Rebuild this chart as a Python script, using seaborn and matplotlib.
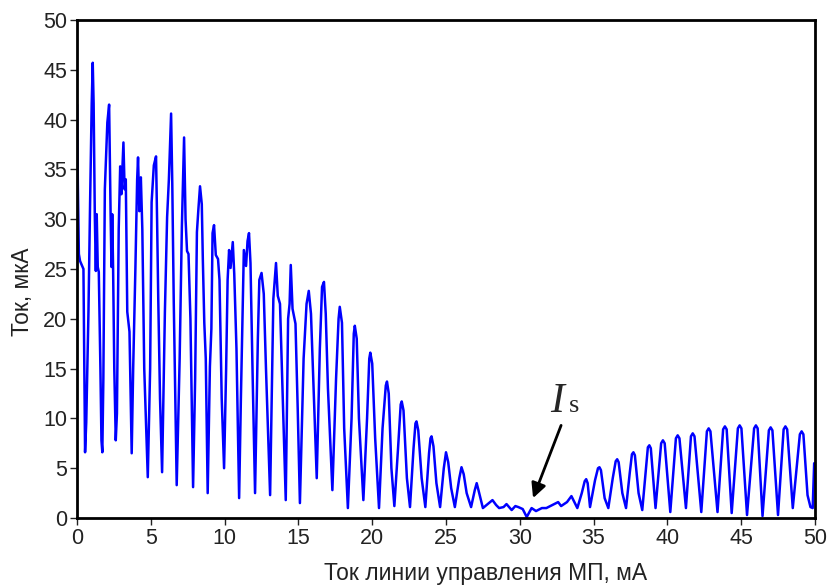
import matplotlib
matplotlib.use("Agg")
import matplotlib.pyplot as plt
import pandas as pd
import seaborn as sns

# vertices (control-line current, mA  ->  current, uA)
seg1 = [(0.0, 41.5), (0.05, 33.6), (0.12, 26.5), (0.2, 25.8), (0.43, 25.0), (0.54, 6.6),
        (0.62, 9.6), (0.77, 20.7), (0.88, 31.6), (0.99, 41.6), (1.06, 45.7), (1.12, 41.6),
        (1.2, 30.4), (1.27, 24.8), (1.33, 30.5), (1.4, 25.2), (1.47, 24.7), (1.58, 15.0),
        (1.65, 7.8), (1.71, 6.6), (1.78, 14.0), (1.88, 33.0), (2.05, 39.7), (2.17, 41.5),
        (2.27, 30.6), (2.33, 25.2), (2.38, 30.5), (2.44, 25.0), (2.52, 15.0), (2.62, 7.8),
        (2.7, 10.5), (2.82, 29.0), (2.92, 35.3), (3.0, 32.5), (3.14, 37.7), (3.22, 33.0),
        (3.3, 34.0), (3.4, 20.7), (3.55, 18.7), (3.7, 6.5), (3.8, 15.0), (3.95, 25.0),
        (4.07, 34.0), (4.13, 36.2), (4.22, 30.8), (4.32, 34.2), (4.42, 29.0), (4.55, 15.0),
        (4.79, 4.1), (4.95, 15.0), (5.05, 31.7), (5.2, 35.4), (5.35, 36.3), (5.42, 30.0),
        (5.5, 22.0), (5.62, 12.0), (5.76, 4.6), (5.95, 20.7), (6.1, 30.2), (6.22, 34.0),
        (6.37, 40.6), (6.45, 33.6), (6.55, 21.7), (6.75, 3.3), (6.95, 16.0), (7.1, 29.2),
        (7.25, 38.2), (7.35, 30.0), (7.45, 26.8), (7.55, 26.5), (7.68, 20.0), (7.86, 3.1),
        (8.0, 14.0), (8.12, 28.7), (8.22, 31.0), (8.33, 33.3), (8.45, 31.5), (8.52, 26.0),
        (8.62, 19.6), (8.72, 16.0), (8.85, 2.5), (9.0, 15.2), (9.1, 19.0), (9.18, 28.6),
        (9.28, 29.4), (9.4, 26.4), (9.55, 26.0), (9.65, 23.9), (9.8, 12.0), (9.96, 5.0)]

seg2 = [(10.1, 15.0), (10.2, 23.9), (10.3, 26.9), (10.4, 25.1), (10.55, 27.7), (10.65, 24.5),
        (10.8, 17.0), (10.98, 2.0), (11.1, 12.0), (11.3, 26.9), (11.45, 25.3), (11.55, 27.8),
        (11.65, 28.6), (11.75, 25.6), (11.9, 14.0), (12.06, 2.5), (12.25, 18.0), (12.35, 23.9),
        (12.5, 24.6), (12.65, 22.5), (12.8, 15.0), (13.08, 2.3), (13.3, 22.0), (13.48, 25.6),
        (13.6, 22.3), (13.75, 21.5), (13.9, 14.0), (14.14, 1.8), (14.3, 20.0), (14.4, 21.5),
        (14.48, 25.4), (14.6, 21.0), (14.8, 19.5), (14.95, 11.0), (15.1, 1.5), (15.35, 16.0),
        (15.55, 21.5), (15.7, 22.8), (15.85, 20.5), (16.05, 12.0), (16.24, 4.0), (16.45, 17.0),
        (16.6, 23.2), (16.73, 23.7), (16.85, 20.5), (17.0, 13.0), (17.3, 2.8), (17.55, 14.0),
        (17.72, 20.0), (17.8, 21.2), (17.95, 19.6), (18.1, 9.0), (18.35, 1.0), (18.6, 10.0),
        (18.75, 18.5), (18.82, 19.3), (18.95, 18.0), (19.1, 10.0), (19.4, 1.8), (19.65, 10.0),
        (19.8, 16.0), (19.87, 16.6), (20.0, 15.5), (20.2, 8.0), (20.46, 1.0)]

seg3 = [(20.7, 9.0), (20.92, 13.3), (21.0, 13.7), (21.12, 12.5), (21.3, 5.0), (21.5, 1.2),
        (21.75, 7.0), (21.93, 11.4), (22.0, 11.7), (22.12, 10.8), (22.35, 4.0), (22.56, 1.1),
        (22.8, 7.0), (22.93, 9.5), (23.0, 9.7), (23.12, 8.8), (23.35, 4.0), (23.6, 1.1),
        (23.85, 6.5), (23.95, 8.0), (24.02, 8.2), (24.15, 7.2), (24.35, 3.5), (24.6, 1.1),
        (24.85, 5.0), (25.0, 6.6), (25.15, 5.6), (25.35, 3.0), (25.6, 1.1), (25.9, 4.0),
        (26.05, 5.1), (26.2, 4.4), (26.4, 2.5), (26.7, 1.1), (26.95, 2.8), (27.08, 3.5),
        (27.2, 2.8), (27.5, 1.0), (27.9, 1.5), (28.15, 1.8), (28.4, 1.3), (28.6, 1.0),
        (28.9, 1.1), (29.1, 1.4), (29.45, 0.8), (29.7, 1.2), (29.9, 1.1), (30.2, 0.9),
        (30.47, 0.1)]

seg4 = [(30.8, 1.0), (31.1, 0.7), (31.5, 1.0), (31.8, 1.0), (32.2, 1.3), (32.6, 1.6),
        (32.8, 1.2), (33.2, 1.6), (33.5, 2.2), (33.7, 1.6), (33.9, 1.0), (34.2, 2.5),
        (34.4, 3.7), (34.5, 3.9), (34.6, 3.5), (34.76, 1.1), (35.1, 3.8), (35.3, 5.0),
        (35.4, 5.1), (35.5, 4.8), (35.75, 2.0), (36.0, 1.0), (36.3, 4.0), (36.5, 5.7),
        (36.6, 5.9), (36.7, 5.6), (36.95, 2.5), (37.2, 1.0), (37.45, 4.5), (37.6, 6.4),
        (37.7, 6.6), (37.8, 6.3), (38.05, 2.5), (38.3, 0.8), (38.55, 5.0), (38.68, 7.1),
        (38.78, 7.3), (38.88, 7.0), (39.2, 1.0), (39.58, 7.5), (39.7, 7.8), (39.82, 7.5),
        (40.2, 0.6), (40.58, 8.0), (40.7, 8.3), (40.82, 8.0), (41.26, 1.0), (41.6, 8.2),
        (41.72, 8.5), (41.84, 8.2), (42.3, 0.6), (42.68, 8.7), (42.8, 9.0), (42.92, 8.7),
        (43.4, 0.6), (43.78, 8.9), (43.9, 9.2), (44.02, 8.9), (44.36, 0.5), (44.78, 9.0),
        (44.9, 9.3), (45.02, 9.0), (45.4, 0.3), (45.88, 9.0), (46.0, 9.3), (46.12, 9.0),
        (46.45, 0.2), (46.88, 8.8), (47.0, 9.1), (47.12, 8.8), (47.5, 0.3), (47.88, 8.9),
        (48.0, 9.2), (48.12, 8.9), (48.5, 1.0), (48.98, 8.4), (49.1, 8.7), (49.22, 8.4),
        (49.5, 2.3), (49.7, 1.1), (49.85, 1.0), (49.95, 5.5), (50.0, 5.5)]

x_ticks = [0, 5, 10, 15, 20, 25, 30, 35, 40, 45, 50]
y_ticks = [0, 5, 10, 15, 20, 25, 30, 35, 40, 45, 50]

df = pd.DataFrame(seg1 + seg2 + seg3 + seg4, columns=["mp", "tok"])

sns.set_style("ticks")
plt.rcParams["font.family"] = ["Liberation Sans", "DejaVu Sans"]

fig = plt.figure(figsize=(8.29, 5.86), dpi=100)
ax = fig.add_axes([0.093, 0.116, 0.890, 0.850])

sns.lineplot(data=df, x="mp", y="tok", sort=False, estimator=None,
             color="#0000ff", linewidth=1.8, ax=ax)

ax.set_xlim(0, 50)
ax.set_ylim(0, 50)
ax.set_xticks(x_ticks)
ax.set_yticks(y_ticks)
ax.tick_params(direction="out", length=5, width=1, labelsize=15.5,
               colors="#222222", pad=2)
for s in ax.spines.values():
    s.set_visible(True)
    s.set_linewidth(2)
    s.set_color("black")

ax.set_xlabel("Ток линии управления МП, мА", fontsize=16.5, color="#222222")
ax.set_ylabel("Ток, мкА", fontsize=16.5, color="#222222")
ax.xaxis.set_label_coords(0.553, -0.088)
ax.yaxis.set_label_coords(-0.058, 0.455)

ax.annotate("", xy=(30.9, 2.0), xytext=(32.8, 9.3),
            arrowprops=dict(arrowstyle="-|>", color="black", lw=2,
                            mutation_scale=22, shrinkA=0, shrinkB=0))
ax.text(32.55, 10.6, "I", fontsize=30, family="Liberation Serif",
        style="italic", ha="center", va="baseline")
ax.text(33.3, 10.6, "s", fontsize=19, family="Liberation Serif",
        ha="left", va="baseline")

fig.savefig("out.png", dpi=100)
